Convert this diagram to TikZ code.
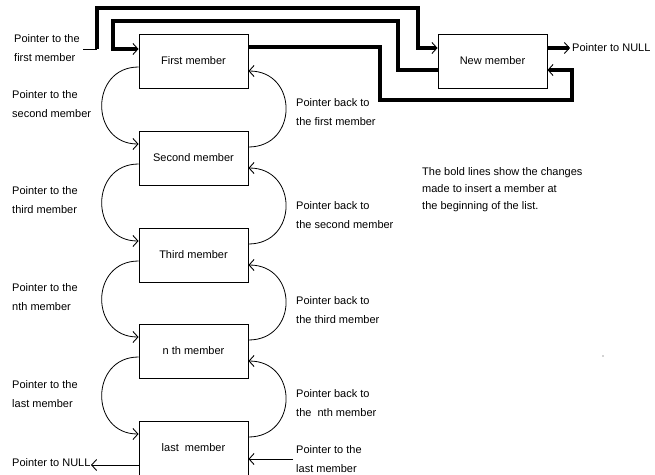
\documentclass[tikz,border=0pt]{standalone}
\usepackage{fontspec}
\setmainfont{Liberation Sans}
\usetikzlibrary{arrows.meta,calc}
\begin{document}
\begin{tikzpicture}[x=1pt,y=-1pt,
  member/.style={draw,line width=0.9pt,minimum width=109pt,minimum height=54pt,inner sep=0pt,font=\fontsize{11}{13}\selectfont},
  lbl/.style={anchor=north west,align=left,inner sep=0pt,font=\fontsize{11}{19}\selectfont},
  link/.style={line width=0.8pt},
  boldlink/.style={line width=3.2pt},
  tip/.style={-{Straight Barb[length=5pt,width=11pt,line width=0.9pt]}},
]
\useasboundingbox (0,0) rectangle (655,474);

% member boxes
\node[member] (first)  at (193.5,61)  {First member};
\node[member] (second) at (193.5,158) {Second member};
\node[member] (third)  at (193.5,255) {Third member};
\node[member] (nth)    at (193.5,351) {n th member};
\node[member] (last)   at (193.5,448) {last\ \ member};
\node[member] (new)    at (492.5,61)  {New member};

% forward pointers (left curves)
\foreach \u/\l in {first/second,second/third,third/nth,nth/last}{
  \draw[link,tip] ([yshift=-6pt]\u.west) .. controls +(-49,0) and +(-49,0) .. ([yshift=14pt]\l.west);
}
% backward pointers (right curves)
\foreach \u/\l in {first/second,second/third,third/nth,nth/last}{
  \draw[link,tip] ([yshift=11pt]\l.east) .. controls +(50,0) and +(50,0) .. ([yshift=-10pt]\u.east);
}

% last member pointers
\coordinate (nullL) at (91,465);
\draw[link,tip] ([yshift=-17pt]last.west) -- (nullL);
\coordinate (lastR) at (293,459);
\draw[link,tip] (lastR) -- ([yshift=-11pt]last.east);

% bold lines (changes)
\coordinate (a0) at (83,49);
\draw[link] (a0) -- (97,49);
\draw[boldlink,tip] (97,49) -- (97,8) -- (418,8) -- (418,48) -- ([yshift=13pt]new.west);
\draw[boldlink,tip] ([yshift=-9pt]new.west) -- (398,70) -- (398,21) -- (113,21) -- (113,49) -- ([yshift=12pt]first.west);
\draw[boldlink,tip] ([yshift=14pt]first.east) -- (380,47) -- (380,100) -- (572,100) -- (572,70) -- ([yshift=-9pt]new.east);
\coordinate (nullR) at (570,48);
\draw[boldlink,tip] ([yshift=13pt]new.east) -- (nullR);

% labels
\node[lbl] (tfirst)  at (14,34.5)  {Pointer to the\\first member};
\node[lbl] (tsecond) at (12,90.5)  {Pointer to the\\second member};
\node[lbl] (tthird)  at (12,186)   {Pointer to the\\third member};
\node[lbl] (tnth)    at (12,283.5) {Pointer to the\\nth member};
\node[lbl] (tlast)   at (12,380)   {Pointer to the\\last member};
\node[lbl] (tnull)   at (12,458.5) {Pointer to NULL};
\node[lbl] (b1) at (296,98.5)  {Pointer back to\\the first member};
\node[lbl] (b2) at (296,201)   {Pointer back to\\the second member};
\node[lbl] (b3) at (296,296)   {Pointer back to\\the third member};
\node[lbl] (b4) at (296,389.5) {Pointer back to\\the\ \ nth member};
\node[lbl] (tlast2) at (296,445) {Pointer to the\\last member};
\node[anchor=west,inner sep=0pt,font=\fontsize{11}{13}\selectfont] (tnullnew) at (572,48) {Pointer to NULL};
\node[lbl,font=\fontsize{11}{17}\selectfont] (note) at (422,167) {The bold lines show the changes\\made to insert a member at\\the beginning of the list.};

\fill[gray!70] (603,356) circle (0.9pt);
\end{tikzpicture}
\end{document}
